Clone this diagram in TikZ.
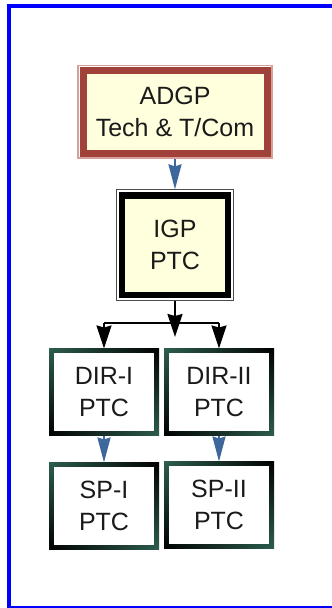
\documentclass[tikz,border=0pt]{standalone}
\usepackage{fontspec}
\setmainfont{Liberation Sans}
\usetikzlibrary{arrows.meta,shadings}
\definecolor{frameblue}{RGB}{0,0,255}
\definecolor{cream}{RGB}{255,255,221}
\definecolor{adgpred}{RGB}{160,65,58}
\definecolor{adgplight}{RGB}{215,160,155}
\definecolor{arrowblue}{RGB}{62,103,156}
\definecolor{tgreen}{RGB}{45,95,80}
\definecolor{txt}{RGB}{26,26,26}
\begin{document}
\begin{tikzpicture}[x=1pt,y=-1pt,
  lbl/.style={font=\fontsize{25}{32}\selectfont, text=txt, align=center, inner sep=0pt},
  adgpbox/.style={lbl, rectangle, draw=adgpred, line width=7pt, fill=cream,
    minimum width=184pt, minimum height=82.5pt, outer sep=6pt},
  igpbox/.style={lbl, rectangle, draw=black, line width=6.4pt, fill=cream,
    minimum width=105.6pt, minimum height=99.3pt, outer sep=6.2pt},
  ptcbox/.style={lbl, rectangle, minimum width=110pt, minimum height=87pt, outer sep=0pt,
    upper left=tgreen, upper right=black, lower left=black, lower right=tgreen,
    path picture={\fill[white] ([shift={(4.7pt,-4.7pt)}]path picture bounding box.north west)
      rectangle ([shift={(-4.7pt,4.7pt)}]path picture bounding box.south east);}},
  bluearrow/.style={draw=arrowblue, line width=2pt,
    -{Stealth[length=25pt,width=13pt,inset=2pt]}},
  blkline/.style={draw=black, line width=2pt},
  blkarrow/.style={draw=black, line width=2pt,
    -{Stealth[length=23pt,width=15pt,inset=2pt]}}
]
\useasboundingbox (0,0) rectangle (332,608);
% outer blue frame
\draw[frameblue, line width=4pt] (9,612) -- (9,6) -- (340,6);
\draw[frameblue, line width=1.6pt] (9,607.2) -- (340,607.2);

% nodes
\node[adgpbox] (adgp) at (175,111.75) {ADGP\\Tech \& T/Com};
\draw[adgplight, line width=1.6pt] ([shift={(0.8pt,-0.8pt)}]adgp.north west)
  rectangle ([shift={(-0.8pt,0.8pt)}]adgp.south east);

\node[igpbox] (igp) at (175,245.2) {IGP\\PTC};
\draw[black!70, line width=1.1pt] ([shift={(0.55pt,-0.55pt)}]igp.north west)
  rectangle ([shift={(-0.55pt,0.55pt)}]igp.south east);

\node[ptcbox] (dir1) at (104,392) {DIR-I\\PTC};
\node[ptcbox] (dir2) at (219,392) {DIR-II\\PTC};
\node[ptcbox] (sp1) at (104,506) {SP-I\\PTC};
\node[ptcbox] (sp2) at (219,505) {SP-II\\PTC};

% connectors
\coordinate (j) at (175,322.5);
\coordinate (ctip) at (175,337);

\draw[bluearrow] (adgp.south) -- (adgp.south |- igp.north);

\draw[blkline] (igp.south) -- (igp.south |- j);
\draw[blkline] (dir1.north |- j) -- (dir2.north |- j);
\draw[blkarrow] (dir1.north |- j) -- (dir1.north);
\draw[blkarrow] (dir2.north |- j) -- (dir2.north);
\draw[blkarrow] (igp.south) -- (ctip);

\draw[bluearrow] (dir1.south) -- (sp1.north);
\draw[bluearrow] (dir2.south) -- (sp2.north);
\end{tikzpicture}
\end{document}
